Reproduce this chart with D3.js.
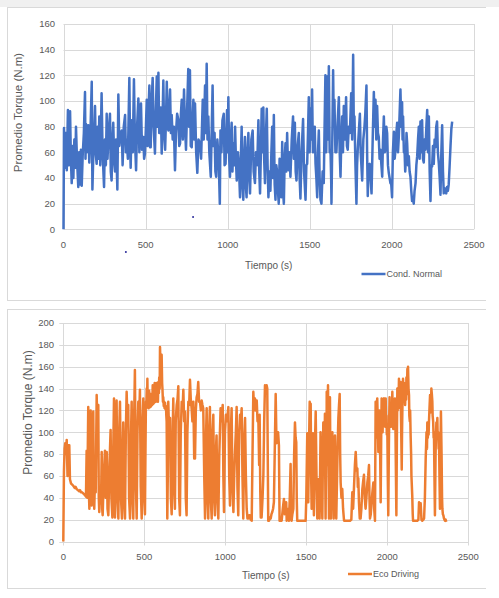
<!DOCTYPE html>
<html>
<head>
<meta charset="utf-8">
<script src="https://cdn.jsdelivr.net/npm/d3@7"></script>
<style>
  html, body { margin: 0; padding: 0; background: #ffffff; }
  svg { display: block; }
  text { font-family: "Liberation Sans", Arial, sans-serif; fill: #595959; }
</style>
</head>
<body>
<svg id="chart" width="499" height="598"></svg>
<script>
// ---------------- DATA ----------------
const xTicks = [0, 500, 1000, 1500, 2000, 2500];
const yTicksNormal = [0, 20, 40, 60, 80, 100, 120, 140, 160];
const yTicksEco = [0, 20, 40, 60, 80, 100, 120, 140, 160, 180, 200];
const xTitle = "Tiempo (s)";
const yTitle = "Promedio Torque (N.m)";
const legendNormal = "Cond. Normal";
const legendEco = "Eco Driving";

// [time (s), torque (N.m)] — Cond. Normal
const normalSeries = [
[0,0],[3,79],[8,48],[14,75],[20,46],[27,93],[33,50],[40,92],[45,55],[50,36],[55,65],[60,40],[66,70],[72,48],[76,80],[82,55],[90,33],[95,60],[100,35],[106,62],[111,34],[117,58],[124,75],[131,107],[134,55],[137,82],[142,60],[151,81],[157,52],[163,70],[172,115],[176,31],[182,60],[187,75],[192,96],[197,58],[202,51],[208,80],[213,55],[218,88],[224,50],[232,106],[238,60],[247,33],[252,70],[258,50],[263,90],[268,55],[275,75],[283,90],[288,45],[293,38],[298,70],[303,83],[309,52],[314,45],[320,70],[328,31],[334,105],[340,65],[347,75],[355,77],[360,50],[367,80],[375,89],[380,60],[385,70],[392,55],[401,118],[405,70],[409,48],[415,85],[422,60],[429,117],[435,70],[442,46],[448,80],[456,102],[462,60],[467,90],[472,98],[478,62],[486,72],[491,55],[496,59],[502,80],[507,101],[512,65],[517,90],[523,112],[527,64],[531,64],[537,100],[543,118],[549,80],[557,59],[562,90],[568,119],[573,80],[578,122],[583,75],[588,75],[593,95],[598,59],[603,85],[608,116],[613,75],[619,62],[624,85],[629,115],[634,80],[639,77],[644,95],[649,109],[654,75],[659,89],[665,70],[672,80],[679,46],[685,75],[692,90],[700,85],[705,65],[710,67],[715,90],[720,101],[727,70],[734,109],[740,80],[746,62],[752,90],[760,125],[765,80],[770,124],[775,65],[781,64],[786,85],[791,101],[796,70],[801,98],[808,60],[815,44],[822,70],[831,67],[838,55],[848,101],[854,70],[862,112],[867,75],[872,129],[877,70],[882,88],[888,60],[897,41],[903,80],[908,112],[913,65],[920,75],[925,45],[930,41],[937,70],[945,55],[952,20],[956,77],[962,60],[968,85],[976,90],[981,50],[987,51],[992,75],[996,93],[1000,60],[1004,103],[1009,55],[1014,41],[1019,70],[1024,83],[1029,45],[1034,67],[1040,50],[1045,80],[1050,55],[1055,38],[1062,60],[1068,50],[1075,25],[1080,55],[1085,80],[1090,35],[1095,23],[1100,55],[1105,72],[1110,35],[1115,25],[1120,60],[1126,75],[1131,40],[1136,28],[1144,70],[1152,77],[1158,45],[1166,36],[1172,60],[1180,50],[1187,85],[1192,45],[1197,28],[1202,60],[1207,94],[1212,60],[1217,95],[1222,55],[1227,36],[1232,70],[1238,94],[1243,50],[1248,25],
[1255,45],[1260,30],[1266,60],[1271,80],[1276,40],[1281,89],[1286,35],[1291,23],[1296,50],[1301,45],[1306,30],[1311,20],[1316,55],[1321,46],[1326,25],[1332,68],[1337,30],[1342,20],[1347,55],[1352,67],[1357,45],[1362,75],[1367,50],[1372,46],[1377,60],[1382,41],[1390,70],[1398,88],[1403,55],[1409,83],[1414,45],[1419,38],[1426,65],[1433,75],[1438,40],[1443,24],[1450,60],[1459,86],[1465,45],[1474,23],[1479,50],[1484,51],[1489,75],[1494,103],[1499,60],[1504,94],[1509,70],[1514,109],[1519,60],[1524,62],[1530,80],[1535,51],[1540,40],[1545,25],[1550,60],[1555,77],[1560,40],[1565,23],[1571,20],[1578,45],[1585,36],[1590,80],[1595,120],[1600,60],[1606,119],[1611,70],[1616,127],[1621,60],[1626,62],[1630,40],[1632,20],[1637,70],[1642,124],[1646,80],[1650,101],[1656,60],[1662,60],[1670,85],[1677,103],[1682,60],[1687,41],[1692,70],[1697,88],[1702,60],[1707,96],[1714,70],[1721,103],[1726,65],[1731,62],[1737,80],[1744,75],[1748,90],[1752,106],[1758,70],[1764,136],[1768,80],[1772,88],[1778,50],[1784,20],[1788,50],[1792,62],[1798,75],[1805,90],[1810,60],[1819,38],[1826,70],[1833,80],[1838,90],[1845,112],[1849,60],[1853,26],[1858,50],[1865,51],[1870,40],[1876,28],[1883,70],[1890,107],[1895,80],[1900,101],[1905,70],[1910,96],[1915,75],[1920,72],[1925,55],[1930,62],[1936,50],[1941,41],[1946,70],[1951,88],[1956,60],[1961,62],[1966,80],[1971,75],[1976,50],[1981,44],[1986,40],[1991,36],[1996,35],[2001,25],[2006,60],[2012,76],[2017,55],[2022,62],[2027,75],[2032,83],[2037,60],[2042,72],[2047,90],[2052,109],[2057,80],[2062,99],[2065,70],[2068,88],[2073,60],[2077,62],[2081,45],[2085,54],[2089,75],[2093,67],[2098,50],[2103,57],[2108,45],[2113,41],[2118,30],[2123,22],[2128,25],[2133,20],[2138,30],[2144,36],[2149,50],[2154,57],[2159,70],[2164,80],[2169,55],[2174,84],[2179,60],[2184,85],[2189,55],[2194,52],[2199,70],[2204,62],[2210,80],[2215,93],[2220,60],[2225,88],[2230,45],[2235,22],[2240,50],[2245,49],[2250,65],[2255,51],[2260,70],[2265,64],[2270,80],[2275,84],[2280,60],[2286,51],[2291,40],[2296,27],[2301,60],[2306,81],[2311,45],[2316,28],[2321,32],[2326,31],[2331,28],[2336,33],[2341,30],[2346,35],[2351,48],[2357,65],[2362,78],[2367,84]
];

// stray isolated points seen on the Cond. Normal chart
const normalStrayPoints = [[380,-17.7],[789,9.6]];

// [time (s), torque (N.m)] — Eco Driving
const ecoSeries = [
[0,0],[4,64],[8,85],[12,90],[17,80],[21,93],[26,60],[31,88],[35,62],[37,88],[41,57],[48,53],[55,52],[62,51],[70,49],[76,50],[82,48],[90,47],[98,46],[103,47],[110,45],[116,45],[123,44],[130,43],[136,42],[140,41],[144,83],[148,40],[154,123],[158,45],[161,30],[165,100],[169,120],[173,40],[175,33],[180,90],[185,119],[188,50],[191,30],[196,60],[200,45],[206,134],[211,100],[216,125],[219,40],[222,27],[228,50],[233,35],[237,82],[240,30],[243,24],[250,60],[257,83],[262,40],[268,82],[273,30],[278,24],[285,70],[292,102],[297,40],[303,22],[308,80],[313,131],[316,50],[319,22],[324,90],[329,129],[334,40],[340,21],[345,100],[350,128],[356,40],[362,21],[366,80],[370,109],[375,40],[381,21],[386,100],[391,137],[396,110],[401,125],[406,40],[412,21],[417,90],[422,128],[427,40],[432,21],[437,110],[442,157],[447,60],[453,21],[458,100],[463,128],[468,110],[473,139],[478,50],[484,21],[489,110],[494,131],[499,40],[504,25],
[507,80],[510,128],[512,122],[515,140],[517,124],[519,149],[521,125],[524,130],[527,122],[530,138],[532,124],[535,129],[538,123],[540,135],[543,124],[546,130],[549,125],[552,143],[555,126],[558,135],[561,127],[564,145],[566,130],[569,138],[571,128],[574,140],[576,145],[579,130],[581,137],[584,128],[587,146],[590,136],[592,150],[595,140],[597,178],[600,160],[602,170],[605,150],[607,171],[610,145],[612,140],[615,128],[617,132],[620,124],[622,128],[625,122],[628,127],[631,121],[634,124],[636,115],[638,110],[642,21],
[645,60],[648,128],[653,100],[659,113],[664,40],[669,25],[674,90],[679,131],[684,50],[689,30],[694,110],[700,125],[705,130],[710,142],[715,40],[720,24],[725,100],[731,128],[736,120],[741,139],[746,110],[751,119],[756,40],[761,24],[766,100],[772,128],[777,125],[782,148],[787,130],[792,122],[797,110],[803,128],[808,76],[813,76],[818,120],[823,132],[828,135],[833,146],[838,128],[844,128],[849,120],[854,129],[859,125],[864,122],[870,60],[875,21],[880,90],[885,122],[890,40],[895,21],[900,100],[905,123],[910,40],[916,21],[921,100],[926,116],[931,40],[936,24],[941,80],[946,97],[951,40],[957,21],[963,80],[971,122],[977,110],[984,125],[988,60],[992,27],[998,100],[1004,116],[1010,110],[1019,123],[1024,60],[1029,33],[1034,100],[1039,122],[1044,50],[1050,27],[1055,60],[1060,82],[1065,100],[1070,123],[1075,50],[1080,24],[1086,100],[1091,116],[1096,110],[1101,122],[1106,60],[1111,21],[1116,90],[1122,113],[1127,60],[1132,30],[1137,21],[1142,21],[1147,24],[1152,24],[1157,20],[1163,19],[1168,80],[1173,137],[1178,120],[1183,131],[1188,120],[1194,129],[1199,110],[1204,113],[1209,70],[1212,116],[1216,45],[1219,22],[1224,22],[1230,40],[1235,61],[1240,110],[1245,143],[1250,139],[1255,143],
[1259,140],[1263,60],[1265,19],[1270,19],[1275,22],[1280,21],[1285,25],[1290,27],[1295,30],[1300,36],[1305,80],[1311,135],[1316,90],[1321,97],[1326,100],[1331,88],[1335,19],[1340,19],[1348,19],[1355,30],[1362,39],[1367,25],[1373,33],[1376,36],[1379,19],[1383,30],[1388,20],[1393,19],[1398,40],[1403,71],[1406,30],[1409,19],[1414,25],[1420,30],[1425,80],[1430,109],[1434,95],[1438,91],[1441,40],[1444,19],[1450,19],[1455,19],[1465,19],[1475,19],[1485,19],[1496,19],[1500,40],[1506,99],[1510,60],[1512,36],[1517,90],[1521,128],[1524,110],[1527,126],[1530,60],[1533,30],[1537,70],[1541,99],[1544,50],[1547,24],[1552,80],[1558,119],[1563,60],[1568,21],[1571,40],[1574,57],[1578,40],[1582,21],[1585,60],[1588,100],[1593,60],[1599,21],[1602,70],[1605,109],[1608,80],[1610,100],[1612,70],[1615,117],[1617,60],[1619,21],[1621,60],[1623,90],[1625,70],[1626,137],[1628,100],[1630,130],[1632,90],[1634,143],[1637,80],[1640,21],[1643,80],[1646,132],[1649,60],[1652,21],[1654,45],[1656,60],[1658,40],[1661,100],[1665,60],[1669,21],[1673,60],[1677,97],[1681,60],[1685,21],[1690,60],[1694,90],[1698,113],[1702,125],[1706,135],[1709,80],[1712,54],[1717,40],[1722,48],[1727,30],[1733,19],[1740,19],[1750,19],[1760,19],[1770,19],[1778,20],[1784,45],[1789,30],[1794,48],[1800,70],[1805,82],[1810,65],[1815,67],[1818,50],[1821,58],[1825,36],[1830,21],[1835,21],[1840,30],[1846,48],[1851,55],[1856,61],[1861,40],[1866,30],[1871,40],[1877,54],[1882,60],[1887,70],[1890,40],[1893,21],[1898,25],[1903,36],[1908,45],[1914,54],[1919,30],[1924,19],
[1928,128],[1931,95],[1933,100],[1936,125],[1938,131],[1941,110],[1943,95],[1945,82],[1947,110],[1949,95],[1951,120],[1953,100],[1956,80],[1959,36],[1962,90],[1965,131],[1967,105],[1969,120],[1971,100],[1973,119],[1975,108],[1977,130],[1980,131],[1982,110],[1985,125],[1987,105],[1990,131],[1992,110],[1995,115],[1997,98],[2000,107],[2003,60],[2006,24],[2010,90],[2012,115],[2014,132],[2016,112],[2018,120],[2021,119],[2023,105],[2026,125],[2028,110],[2031,137],[2034,110],[2037,103],[2039,118],[2042,120],[2044,105],[2047,131],[2050,110],[2052,80],[2056,24],[2059,90],[2062,140],[2064,120],[2067,135],[2069,122],[2072,149],[2074,130],[2077,140],[2079,125],[2082,146],[2084,120],[2086,100],[2089,66],[2091,100],[2093,120],[2095,135],[2097,149],[2100,140],[2102,130],[2103,145],[2106,128],[2108,135],[2110,125],[2113,140],[2116,130],[2118,150],[2121,135],[2124,158],[2126,140],[2128,160],[2131,140],[2134,134],[2136,115],[2139,110],[2141,120],[2144,97],[2147,80],[2149,60],[2154,42],[2157,25],
[2159,19],[2165,19],[2175,19],[2185,19],[2192,20],[2196,36],[2201,30],[2206,35],[2211,20],[2216,19],[2222,20],[2227,21],[2232,40],[2237,76],[2240,90],[2242,100],[2245,85],[2247,109],[2250,95],[2252,105],[2255,98],[2257,109],[2260,120],[2264,134],[2266,118],[2268,130],[2270,125],[2272,140],[2275,135],[2278,128],[2280,115],[2283,110],[2286,95],[2288,100],[2291,60],[2294,24],[2298,80],[2300,95],[2303,109],[2306,100],[2309,113],[2311,95],[2314,100],[2317,85],[2319,97],[2322,60],[2325,30],[2328,80],[2331,119],[2335,80],[2338,40],[2340,30],[2343,25],[2346,24],[2350,21],[2356,19],[2360,20],[2364,18]
];

// ---------------- DRAW ----------------
const svg = d3.select("#chart");
const gridColor = "#d9d9d9";
const frameColor = "#d9d9d9";

// page strip at top
svg.append("rect").attr("x",0).attr("y",0).attr("width",499).attr("height",7).attr("fill","#f0f0f0");

function frame(y0, y1) {
  svg.append("line").attr("x1",7).attr("x2",486).attr("y1",y0).attr("y2",y0).attr("stroke",frameColor);
  svg.append("line").attr("x1",7).attr("x2",486).attr("y1",y1).attr("y2",y1).attr("stroke",frameColor);
  svg.append("line").attr("x1",7.5).attr("x2",7.5).attr("y1",y0).attr("y2",y1).attr("stroke",frameColor);
}
frame(7.5, 300.5);
frame(309.5, 588.5);

function panel(cfg) {
  const x = d3.scaleLinear().domain([0, 2500]).range([cfg.x0, cfg.x1]);
  const y = d3.scaleLinear().domain([0, cfg.yMax]).range([cfg.y0, cfg.y1]);
  const g = svg.append("g");

  // horizontal gridlines
  g.selectAll(".hg").data(cfg.yTicks).enter().append("line")
    .attr("x1", x(0) - cfg.tick).attr("x2", x(2500))
    .attr("y1", d => Math.round(y(d)) + 0.5).attr("y2", d => Math.round(y(d)) + 0.5)
    .attr("stroke", gridColor).attr("stroke-width", 1);
  // vertical gridlines
  g.selectAll(".vg").data(xTicks).enter().append("line")
    .attr("x1", d => Math.round(x(d)) + 0.5).attr("x2", d => Math.round(x(d)) + 0.5)
    .attr("y1", y(cfg.yMax)).attr("y2", y(0) + cfg.tick)
    .attr("stroke", gridColor).attr("stroke-width", 1);

  // y tick labels
  g.selectAll(".yl").data(cfg.yTicks).enter().append("text")
    .attr("x", cfg.yLabelX).attr("y", d => y(d)).attr("dy", "0.35em")
    .attr("text-anchor", "end").style("font-size", "9.5px").text(d => d);
  // x tick labels
  g.selectAll(".xl").data(xTicks).enter().append("text")
    .attr("x", d => x(d)).attr("y", cfg.xLabelY).attr("dy", "0.35em")
    .attr("text-anchor", "middle").style("font-size", "9.5px").text(d => d);

  // axis titles
  g.append("text").attr("x", (cfg.x0 + cfg.x1) / 2).attr("y", cfg.xTitleY).attr("dy", "0.35em")
    .attr("text-anchor", "middle").style("font-size", "10px").text(xTitle);
  g.append("text").attr("transform", `translate(${cfg.yTitleX},${cfg.yTitleY}) rotate(-90)`)
    .attr("dy", "0.35em").attr("text-anchor", "middle")
    .style("font-size", cfg.yTitleSize).text(yTitle);

  // series line
  const line = d3.line().x(d => x(d[0])).y(d => y(d[1]));
  g.append("path").datum(cfg.series).attr("d", line)
    .attr("fill", "none").attr("stroke", cfg.color).attr("stroke-width", 2.5)
    .attr("stroke-linejoin", "round");

  if (cfg.stray) {
    g.selectAll(".sp").data(cfg.stray).enter().append("circle")
      .attr("cx", d => x(d[0])).attr("cy", d => y(d[1])).attr("r", 1)
      .attr("fill", "#2a2a9a");
  }

  // legend
  g.append("line").attr("x1", cfg.legX).attr("x2", cfg.legX + 24)
    .attr("y1", cfg.legY).attr("y2", cfg.legY)
    .attr("stroke", cfg.color).attr("stroke-width", 2.5);
  g.append("text").attr("x", cfg.legX + 25).attr("y", cfg.legY).attr("dy", "0.35em")
    .style("font-size", "9px").text(cfg.legend);
}

panel({
  series: normalSeries, stray: normalStrayPoints, color: "#4472c4",
  yMax: 160, yTicks: yTicksNormal,
  x0: 63.5, x1: 474, y0: 229.3, y1: 24, tick: 0,
  yLabelX: 55, xLabelY: 245, xTitleY: 265,
  yTitleX: 17.7, yTitleY: 112.5, yTitleSize: "11.5px",
  legX: 361.5, legY: 274, legend: legendNormal
});

panel({
  series: ecoSeries, color: "#ed7d31",
  yMax: 200, yTicks: yTicksEco,
  x0: 63.3, x1: 468.3, y0: 541.5, y1: 323, tick: 4,
  yLabelX: 54, xLabelY: 556.5, xTitleY: 575,
  yTitleX: 28, yTitleY: 412.5, yTitleSize: "12px",
  legX: 348, legY: 574, legend: legendEco
});
</script>
</body>
</html>
